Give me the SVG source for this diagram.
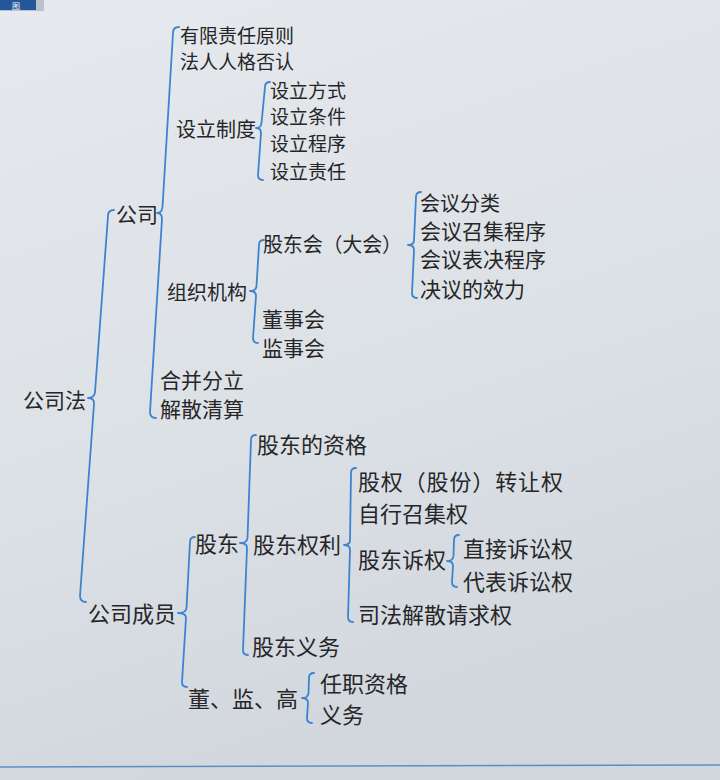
<svg xmlns="http://www.w3.org/2000/svg" width="720" height="780" viewBox="0 0 720 780">
<defs>
<linearGradient id="bg" x1="0" y1="0" x2="0.3" y2="1">
<stop offset="0" stop-color="#e6e9ed"/>
<stop offset="0.6" stop-color="#dce1e6"/>
<stop offset="1" stop-color="#d1d7dd"/>
</linearGradient>
<style>
text{font-family:"Noto Sans CJK SC","Noto Sans",sans-serif;fill:#262628;dominant-baseline:central}
.s0{font-size:19px}
.s1{font-size:20px}
.s2{font-size:21px}
.s3{font-size:22px}
.br{fill:none;stroke:#3d84cf;stroke-width:1.8;stroke-linecap:round;stroke-linejoin:round}
</style>
</defs>
<rect width="720" height="780" fill="url(#bg)"/>
<g id="header">
<rect x="0" y="0" width="44" height="11" fill="#b9c2cb"/>
<rect x="0" y="0" width="36" height="10" fill="#24579a"/>
<text x="12" y="5" style="font-size:8px;fill:#ffffff">图</text>
</g>
<line x1="0" y1="767" x2="720" y2="765" stroke="#5b8fc4" stroke-width="1.5"/>
<g id="connectors">
<path class="br" d="M114,210 Q108,210 108,216 L95,392 Q94.5,398 88,398 Q94.5,398 94,404 L80,596 Q80,602 86,602"/>
<path class="br" d="M179,27 Q173,27 173,33 L162.5,207 Q162,213 157,213 Q162,213 162,219 L150,412 Q150,418 156,418"/>
<path class="br" d="M270,82 Q265,82 265,87 L261.5,123 Q261,128 256,128 Q261,128 261,133 L258,175 Q258,180 263,180"/>
<path class="br" d="M264,240 Q259,240 259,245 L256.5,286 Q256,291 250,291 Q256,291 256,296 L253,338 Q253,343 258,343"/>
<path class="br" d="M421,192 Q416,192 416,197 L414,240 Q414,245 408,245 Q414,245 414,250 L412,293 Q412,298 417,298"/>
<path class="br" d="M256,435 Q251,435 251,440 L247.5,538 Q247,543 240,543 Q247,543 247,548 L243,650 Q243,655 248,655"/>
<path class="br" d="M195,537 Q190,537 190,542 L186.5,608 Q186,613 178,613 Q186,613 186,618 L182,682 Q182,687 187,687"/>
<path class="br" d="M356,468 Q351,468 351,473 L350,540 Q350,545 344,545 Q350,545 350,550 L348,617 Q348,622 353,622"/>
<path class="br" d="M459,535 Q454,535 454,540 L453.5,556 Q453,561 447,561 Q453,561 453,566 L452,582 Q452,587 457,587"/>
<path class="br" d="M314,673 Q309,673 309,678 L308.5,693 Q308,698 302,698 Q308,698 308,703 L307,718 Q307,723 312,723"/>
</g>
<g id="n-gongsifa"><text class="s2" x="23" y="399">公司法</text></g>
<g id="n-gongsi"><text class="s2" x="116" y="213">公司</text></g>
<g id="n-youxian"><text class="s0" x="180" y="34">有限责任原则</text></g>
<g id="n-faren"><text class="s0" x="180" y="60">法人人格否认</text></g>
<g id="n-sheli"><text class="s1" x="176" y="128">设立制度</text></g>
<g id="n-sheli1"><text class="s0" x="270" y="89">设立方式</text></g>
<g id="n-sheli2"><text class="s0" x="270" y="115">设立条件</text></g>
<g id="n-sheli3"><text class="s0" x="270" y="142">设立程序</text></g>
<g id="n-sheli4"><text class="s0" x="270" y="170">设立责任</text></g>
<g id="n-zuzhi"><text class="s1" x="167" y="291">组织机构</text></g>
<g id="n-gudonghui"><text class="s1" x="263" y="243" textLength="139" lengthAdjust="spacing">股东会（大会）</text></g>
<g id="n-huiyi1"><text class="s1" x="420" y="202">会议分类</text></g>
<g id="n-huiyi2"><text class="s2" x="420" y="230">会议召集程序</text></g>
<g id="n-huiyi3"><text class="s2" x="420" y="258">会议表决程序</text></g>
<g id="n-huiyi4"><text class="s2" x="420" y="288">决议的效力</text></g>
<g id="n-dongshihui"><text class="s2" x="262" y="318">董事会</text></g>
<g id="n-jianshihui"><text class="s2" x="262" y="347">监事会</text></g>
<g id="n-hebing"><text class="s2" x="160" y="379">合并分立</text></g>
<g id="n-jiesan"><text class="s2" x="160" y="408">解散清算</text></g>
<g id="n-chengyuan"><text class="s3" x="88" y="612">公司成员</text></g>
<g id="n-gudong"><text class="s3" x="195" y="542">股东</text></g>
<g id="n-zige"><text class="s3" x="257" y="443">股东的资格</text></g>
<g id="n-quanli"><text class="s3" x="253" y="543">股东权利</text></g>
<g id="n-zhuanrang"><text class="s3" x="358" y="480" textLength="205" lengthAdjust="spacing">股权（股份）转让权</text></g>
<g id="n-zixing"><text class="s3" x="358" y="512">自行召集权</text></g>
<g id="n-suquan"><text class="s3" x="358" y="558">股东诉权</text></g>
<g id="n-zhijie"><text class="s3" x="463" y="547">直接诉讼权</text></g>
<g id="n-daibiao"><text class="s3" x="463" y="580">代表诉讼权</text></g>
<g id="n-sifa"><text class="s3" x="358" y="613">司法解散请求权</text></g>
<g id="n-yiwu"><text class="s3" x="252" y="645">股东义务</text></g>
<g id="n-djg"><text class="s3" x="188" y="697">董、监、高</text></g>
<g id="n-renzhi"><text class="s3" x="320" y="682">任职资格</text></g>
<g id="n-yiwu2"><text class="s3" x="320" y="713">义务</text></g>
</svg>
